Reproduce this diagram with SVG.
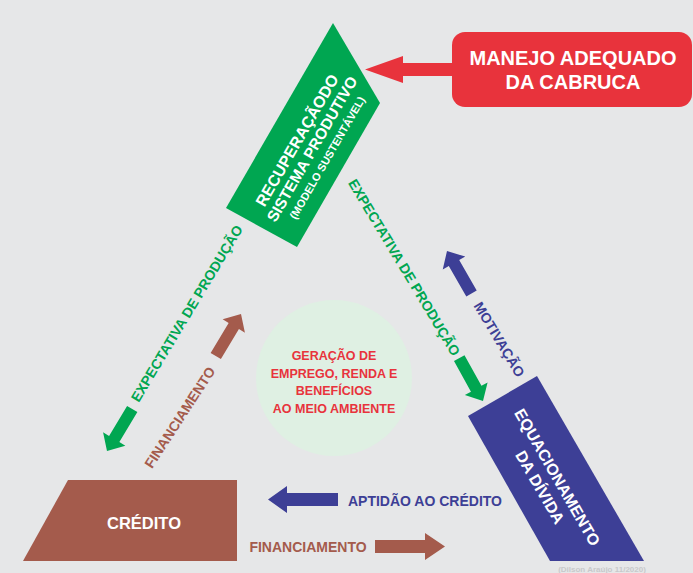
<svg xmlns="http://www.w3.org/2000/svg" width="693" height="573" viewBox="0 0 693 573">
<style>
.t{font-family:"Liberation Sans",Arial,sans-serif;font-weight:bold;text-anchor:middle}
.w{fill:#ffffff}
.g{fill:#00a651}
.b{fill:#3d3f96}
.br{fill:#a45b4c}
.r{fill:#e8333c}
</style>
<defs>
<polygon id="darr" points="-49,-6 -14,-6 -14,-13 0,0 -14,13 -14,6 -49,6"/>
</defs>
<rect width="693" height="573" fill="#e6e7e8"/>
<g id="center-circle">
<circle cx="334" cy="378" r="78" fill="#dff0e3"/>
<text class="t r" font-size="12.5"><tspan x="334" y="360">GERAÇÃO DE</tspan><tspan x="334" y="377.5">EMPREGO, RENDA E</tspan><tspan x="334" y="395">BENEFÍCIOS</tspan><tspan x="334" y="412.5">AO MEIO AMBIENTE</tspan></text>
</g>
<g id="recuperacao">
<polygon points="333,23 380,103 297,247 226,208" fill="#00a651"/>
<g transform="translate(312,149) rotate(-60)">
<text class="t w" font-size="16" x="0" y="-11.7">RECUPERAÇÃODO</text>
<text class="t w" font-size="15.5" x="0" y="5.5">SISTEMA PRODUTIVO</text>
<text class="t w" font-size="11" x="0" y="21.5">(MODELO SUSTENTÁVEL)</text>
</g>
</g>
<g id="manejo">
<rect x="452" y="32" width="240" height="75" rx="13" fill="#e8333c"/>
<text class="t w" font-size="20"><tspan x="573" y="65">MANEJO ADEQUADO</tspan><tspan x="573" y="89">DA CABRUCA</tspan></text>
</g>
<g id="equacionamento">
<polygon points="468,416 537,376 644,561 550,561" fill="#3d3f96"/>
<g transform="translate(549,482) rotate(60)">
<text class="t w" font-size="16" x="0" y="-4">EQUACIONAMENTO</text>
<text class="t w" font-size="16" x="0" y="16">DA DÍVIDA</text>
</g>
</g>
<g id="credito">
<polygon points="68,480 237,480 237,561 23,561" fill="#a45b4c"/>
<text class="t w" font-size="16.5" x="144" y="529">CRÉDITO</text>
</g>
<g id="connectors">
<polygon points="452,63 403,63 403,56 365,69.5 403,83 403,76 452,76" fill="#e8333c"/>
<use href="#darr" transform="translate(107,451) rotate(121)" fill="#00a651"/>
<use href="#darr" transform="translate(241,314) rotate(-59)" fill="#a45b4c"/>
<use href="#darr" transform="translate(483,401) rotate(61)" fill="#00a651"/>
<use href="#darr" transform="translate(447,251) rotate(-120)" fill="#3d3f96"/>
<polygon points="338,493 287,493 287,486 268,499.5 287,513 287,506 338,506" fill="#3d3f96"/>
<polygon points="375,540 425,540 425,533 445,546.5 425,560 425,553 375,553" fill="#a45b4c"/>
<text class="t g" font-size="14" transform="translate(191,316) rotate(-59)">EXPECTATIVA DE PRODUÇÃO</text>
<text class="t br" font-size="14" transform="translate(184,420) rotate(-57)">FINANCIAMENTO</text>
<text class="t g" font-size="14" transform="translate(400,270) rotate(59)">EXPECTATIVA DE PRODUÇÃO</text>
<text class="t b" font-size="14" transform="translate(495,342) rotate(59)">MOTIVAÇÃO</text>
<text class="t b" font-size="14" x="425" y="506">APTIDÃO AO CRÉDITO</text>
<text class="t br" font-size="14" x="308" y="552">FINANCIAMENTO</text>
</g>
<text class="t" font-size="8" fill="#c8c9cb" x="602" y="572">(Dilson Araújo 11/2020)</text>
</svg>
